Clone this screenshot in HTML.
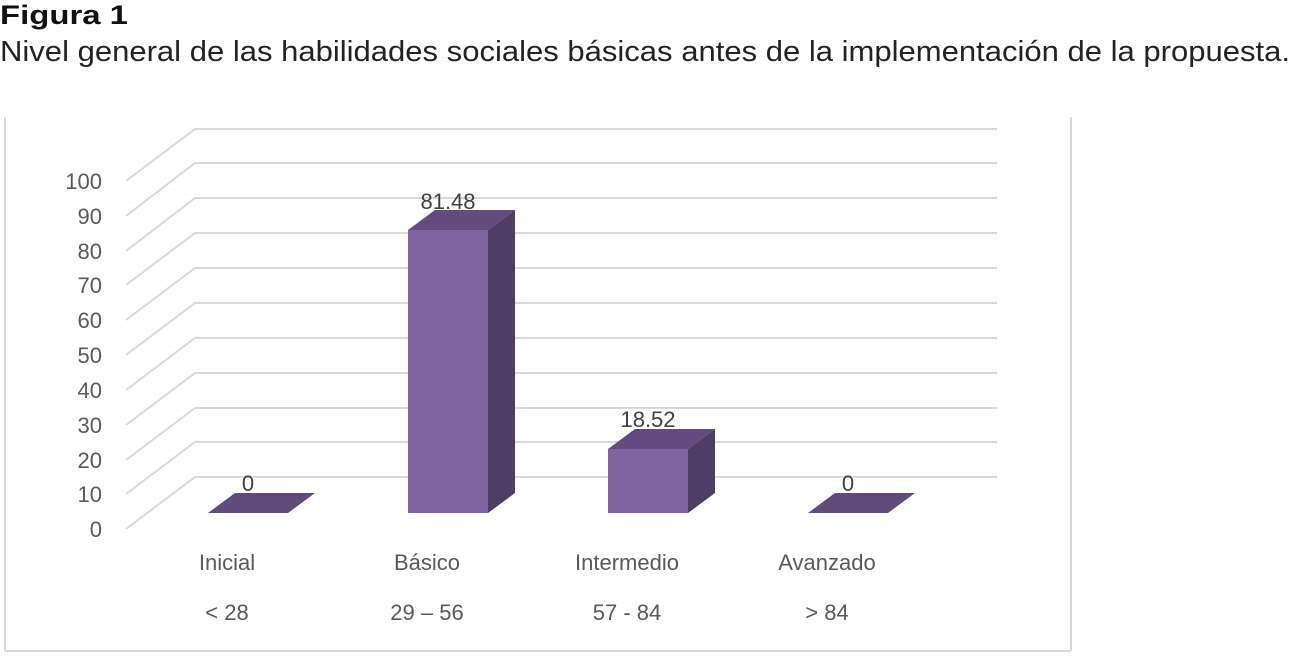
<!DOCTYPE html>
<html><head><style>body{margin:0;background:#fff}svg{display:block}</style></head>
<body>
<svg width="1298" height="663" xmlns="http://www.w3.org/2000/svg" font-family="Liberation Sans, DejaVu Sans, sans-serif">
<text x="0" y="24" font-size="27" font-weight="bold" fill="#111" textLength="128" lengthAdjust="spacingAndGlyphs">Figura 1</text>
<text x="0" y="61" font-size="29" fill="#222" textLength="1290" lengthAdjust="spacingAndGlyphs">Nivel general de las habilidades sociales básicas antes de la implementación de la propuesta.</text>
<g stroke="#d9d9d9" stroke-width="2" fill="none">
<line x1="5" y1="117" x2="5" y2="651"/><line x1="5" y1="651" x2="1071" y2="651"/><line x1="1071" y1="117" x2="1071" y2="651"/>
</g>
<g stroke="#d9d9d9" stroke-width="2" fill="none">
<polyline points="126,181 195,129 997,129"/>
<polyline points="126,216 195,163 997,163"/>
<polyline points="126,251 195,198 997,198"/>
<polyline points="126,285 195,233 997,233"/>
<polyline points="126,320 195,268 997,268"/>
<polyline points="126,355 195,303 997,303"/>
<polyline points="126,390 195,338 997,338"/>
<polyline points="126,425 195,373 997,373"/>
<polyline points="126,460 195,408 997,408"/>
<polyline points="126,494 195,442 997,442"/>
<polyline points="126,529 195,477 997,477"/>
</g>
<g font-size="22" fill="#595959" text-anchor="end">
<text x="102" y="189">100</text><text x="102" y="224">90</text><text x="102" y="259">80</text><text x="102" y="293">70</text><text x="102" y="328">60</text><text x="102" y="363">50</text><text x="102" y="398">40</text><text x="102" y="433">30</text><text x="102" y="468">20</text><text x="102" y="502">10</text><text x="102" y="537">0</text>
</g>
<polygon points="208,513 288,513 315,493 235,493" fill="#604a7b"/>
<polygon points="808,513 888,513 915,493 835,493" fill="#604a7b"/>
<rect x="408" y="230" width="80" height="283" fill="#8064a2"/>
<polygon points="488,230 515,210 515,493 488,513" fill="#4f3d66"/>
<polygon points="408,230 488,230 515,210 435,210" fill="#634b80"/>
<rect x="608" y="449" width="80" height="64" fill="#8064a2"/>
<polygon points="688,449 715,429 715,493 688,513" fill="#4f3d66"/>
<polygon points="608,449 688,449 715,429 635,429" fill="#634b80"/>
<g font-size="22" fill="#404040" text-anchor="middle">
<text x="248" y="491">0</text><text x="448" y="209">81.48</text><text x="648" y="427">18.52</text><text x="848" y="491">0</text>
</g>
<g font-size="22" fill="#595959" text-anchor="middle">
<text x="227" y="570">Inicial</text><text x="427" y="570">Básico</text><text x="627" y="570">Intermedio</text><text x="827" y="570">Avanzado</text>
<text x="227" y="620">&lt; 28</text><text x="427" y="620">29 – 56</text><text x="627" y="620">57 - 84</text><text x="827" y="620">&gt; 84</text>
</g>
</svg>
</body></html>
